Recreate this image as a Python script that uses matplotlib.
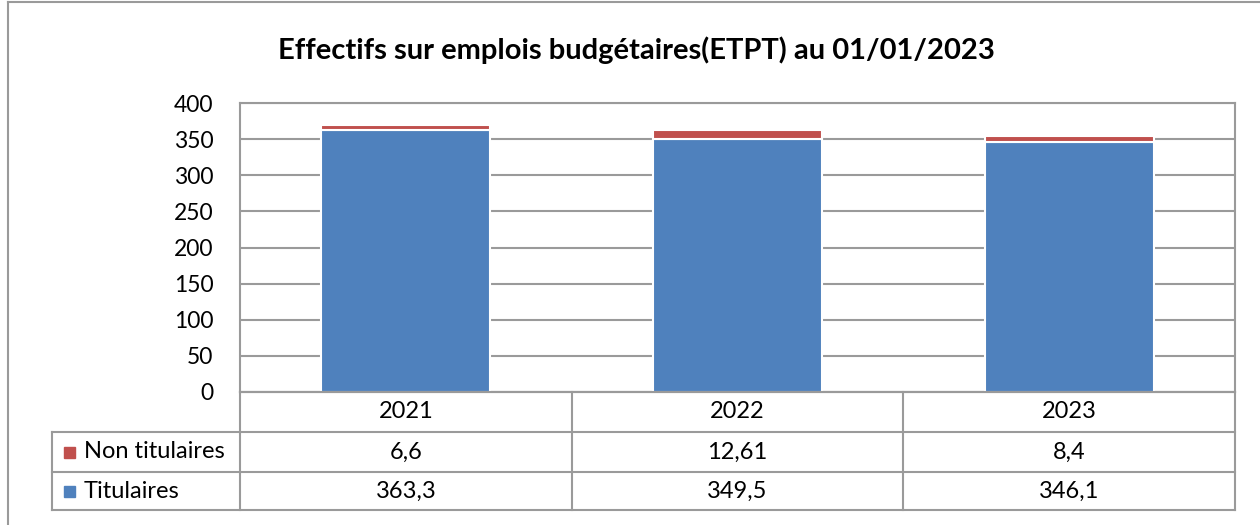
import matplotlib.pyplot as plt
from matplotlib.patches import Rectangle
from matplotlib.lines import Line2D

plt.rcParams['font.family'] = ['Lato', 'DejaVu Sans']

years = ["2021", "2022", "2023"]
titulaires = [363.3, 349.5, 346.1]
non_titulaires = [6.6, 12.61, 8.4]
tit_labels = ["363,3", "349,5", "346,1"]
non_labels = ["6,6", "12,61", "8,4"]
series_names = ["Non titulaires", "Titulaires"]
title = "Effectifs sur emplois budgétaires(ETPT) au 01/01/2023"

blue = "#4F81BD"
red = "#C0504D"
grid_col = "#9A9A9A"

W, H = 1260, 525
fig = plt.figure(figsize=(W / 100, H / 100), dpi=100)

# plot area in pixels
px0, px1, py0, py1 = 240, 1235, 103, 392
ax = fig.add_axes([px0 / W, 1 - py1 / H, (px1 - px0) / W, (py1 - py0) / H])
x = list(range(len(years)))
ax.bar(x, titulaires, width=0.51, color=blue, edgecolor="white", linewidth=1.5, zorder=3)
ax.bar(x, non_titulaires, bottom=titulaires, width=0.51, color=red,
       edgecolor="white", linewidth=1.5, zorder=3)
ax.set_xlim(-0.5, len(years) - 0.5)
ax.set_ylim(0, 400)
ax.set_yticks(range(0, 401, 50))
ax.tick_params(axis="y", labelsize=16.5, length=0, pad=19)
ax.set_xticks([])
ax.yaxis.grid(True, color=grid_col, linewidth=1.5, zorder=0)
for s in ax.spines.values():
    s.set_color(grid_col)
    s.set_linewidth(1.5)

fig.text(636 / W, 1 - 50 / H, title, ha="center", va="center",
         fontsize=21, fontweight="bold")

# data table drawn in pixel coords
tax = fig.add_axes([0, 0, 1, 1])
tax.set_xlim(0, W)
tax.set_ylim(H, 0)
tax.axis("off")
col_w = (px1 - px0) / len(years)
rows_y = [392, 432, 472, 510]
lk = dict(color=grid_col, linewidth=1.5)
# horizontal lines
tax.add_line(Line2D([px0, px1], [rows_y[0]] * 2, **lk))
for yy in rows_y[1:]:
    tax.add_line(Line2D([52, px1], [yy, yy], **lk))
# vertical lines
tax.add_line(Line2D([52, 52], [rows_y[1], rows_y[3]], **lk))
for i in range(len(years) + 1):
    xx = px0 + i * col_w
    tax.add_line(Line2D([xx, xx], [rows_y[0], rows_y[3]], **lk))

row_vals = [years, non_labels, tit_labels]
for r, vals in enumerate(row_vals):
    yc = (rows_y[r] + rows_y[r + 1]) / 2
    for i, v in enumerate(vals):
        tax.text(px0 + (i + 0.5) * col_w, yc, v, ha="center", va="center", fontsize=17)
for r, (name, c) in enumerate(zip(series_names, [red, blue])):
    yc = (rows_y[r + 1] + rows_y[r + 2]) / 2
    tax.add_patch(Rectangle((64, yc - 5), 11, 11, color=c))
    tax.text(84, yc, name, ha="left", va="center", fontsize=17)

# outer frame
tax.add_line(Line2D([8, 8], [2, H], **lk))
tax.add_line(Line2D([8, W], [2, 2], **lk))

fig.savefig("out.png", dpi=100)
